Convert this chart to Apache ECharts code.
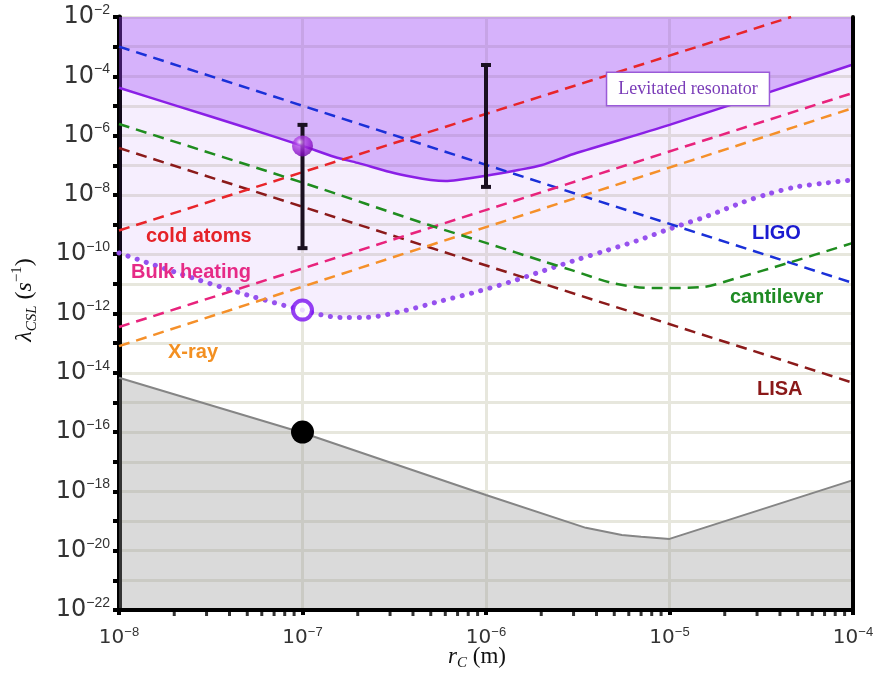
<!DOCTYPE html>
<html>
<head>
<meta charset="utf-8">
<script src="https://cdn.jsdelivr.net/npm/echarts@6/dist/echarts.min.js"></script>
<style>
  html, body { margin: 0; padding: 0; background: #ffffff; }
  #chart { width: 878px; height: 675px; }
</style>
</head>
<body>
<div id="chart"></div>
<script>
// CSL collapse rate λ_CSL versus collapse radius r_C, log–log, with the
// excluded regions and the bounds of several experiments.

// ---- axis ticks ----
const xDecades = [1e-8, 1e-7, 1e-6, 1e-5, 1e-4];
const yDecades = [1e-22, 1e-21, 1e-20, 1e-19, 1e-18, 1e-17, 1e-16, 1e-15, 1e-14, 1e-13,
                  1e-12, 1e-11, 1e-10, 1e-9, 1e-8, 1e-7, 1e-6, 1e-5, 1e-4, 1e-3, 1e-2];
const yLabelled = [1e-22, 1e-20, 1e-18, 1e-16, 1e-14, 1e-12, 1e-10, 1e-8, 1e-6, 1e-4, 1e-2];
const minorSteps = [2, 3, 4, 5, 6, 7, 8, 9];

// ---- levitated resonator bound (solid), excluded above ----
const levitatedX = [1e-8, 2e-8, 5e-8, 1e-7, 1.5e-7, 2e-7, 3e-7, 4e-7, 5e-7, 6e-7, 7e-7,
                    1e-6, 1.5e-6, 2e-6, 3e-6, 1e-5, 1e-4];
const levitatedY = [4.1e-5, 1.07e-5, 1.8e-6, 4.5e-7, 1.9e-7, 1.2e-7, 5.9e-8, 4.0e-8, 3.2e-8, 2.95e-8, 3.2e-8,
                    4.4e-8, 6.9e-8, 1.0e-7, 2.4e-7, 2.3e-6, 2.5e-4];

// ---- bulk heating bound (dotted), excluded above ----
const bulkX = [1e-8, 2.5e-8, 5e-8, 1e-7, 1.6e-7, 2.2e-7, 3.5e-7, 5.5e-7, 8.5e-7, 1.35e-6, 2.05e-6,
               3.2e-6, 4.4e-6, 6.6e-6, 1e-5, 1.6e-5, 2.5e-5, 3.5e-5, 4.9e-5, 7e-5, 1e-4];
const bulkY = [1.1e-10, 1.6e-11, 4.2e-12, 1.3e-12, 7.4e-13, 7.4e-13, 1.2e-12, 2.5e-12, 5e-12, 1.15e-11, 2.75e-11,
               6.8e-11, 1.26e-10, 2.8e-10, 7.1e-10, 1.9e-9, 5.6e-9, 1.1e-8, 1.86e-8, 2.5e-8, 3.2e-8];

// ---- lower bound (grey region below) ----
const lowerX = [1e-8, 1e-7, 1e-6, 3.5e-6, 5.5e-6, 7e-6, 1e-5, 1e-4];
const lowerY = [6.8e-15, 9.5e-17, 7.6e-19, 5.9e-20, 3.4e-20, 2.95e-20, 2.5e-20, 2.4e-18];

// ---- experimental bounds (dashed) ----
const ligoX = [1e-8, 1e-4];         const ligoY = [1e-3, 1.07e-11];
const lisaX = [1e-8, 1e-4];         const lisaY = [3.8e-7, 4.6e-15];
const coldAtomsX = [1e-8, 4.6e-5];  const coldAtomsY = [6.3e-10, 1e-2];
const bulkDashX = [1e-8, 1e-4];     const bulkDashY = [3.5e-13, 2.75e-5];
const xrayX = [1e-8, 1e-4];         const xrayY = [7.9e-14, 8.5e-6];
const cantileverX = [1e-8, 1e-7, 4.8e-7, 1e-6, 2.1e-6, 2.9e-6, 4.9e-6, 8.1e-6, 1.5e-5, 2.35e-5, 4.4e-5, 1e-4];
const cantileverY = [2.45e-6, 2.6e-8, 1.0e-9, 2.4e-10, 5.5e-11, 2.95e-11, 1.07e-11, 7.2e-12, 7.8e-12, 1.6e-11, 5e-11, 2.4e-10];

// ---- error bars and points ----
const errX = [1e-7, 1e-6];
const errLow = [1.6e-10, 1.86e-8];
const errHigh = [2.3e-6, 2.4e-4];
const levitatedPoint = [1e-7, 4.5e-7];
const bulkPoint = [1e-7, 1.3e-12];
const lowerPoint = [1e-7, 1e-16];

// ---- helpers ----
const zip = (xs, ys) => xs.map((x, i) => [x, ys[i]]);
const minorTicks = [];
xDecades.slice(0, -1).forEach(d => minorSteps.forEach(m => minorTicks.push(d * m)));
function powLabel(v) {
  const e = Math.round(Math.log10(v));
  return '{b|10}{s|' + (e < 0 ? '\u2212' + (-e) : String(e)) + '}';
}

const xMin = 1e-8, xMax = 1e-4, yMin = 1e-22, yMax = 1e-2;
const gridLine = { color: '#e7e7dd', width: 3 };
const dash = [11, 7];

function dashed(name, xs, ys, color, smooth) {
  return {
    name, type: 'line', data: zip(xs, ys), symbol: 'none', smooth: smooth || false,
    lineStyle: { color, width: 2.5, type: dash }, z: 4, silent: true
  };
}

const chart = echarts.init(document.getElementById('chart'));
chart.setOption({
  animation: false,
  backgroundColor: '#ffffff',
  grid: { left: 119, right: 25, top: 17, bottom: 65 },
  xAxis: [
    {
      type: 'log', logBase: 10, min: xMin, max: xMax, position: 'bottom',
      axisLine: { lineStyle: { color: '#7c7c7c', width: 3 } },
      axisTick: { customValues: xDecades, length: 5, lineStyle: { color: '#000', width: 4 } },
      axisLabel: {
        customValues: xDecades, formatter: powLabel, margin: 16,
        rich: {
          b: { fontFamily: 'DejaVu Sans', fontSize: 20, lineHeight: 24, color: '#333' },
          s: { fontFamily: 'Liberation Sans', fontSize: 13, lineHeight: 13, verticalAlign: 'top', color: '#333' }
        }
      },
      splitLine: { show: true, lineStyle: gridLine }
    },
    {
      type: 'log', logBase: 10, min: xMin, max: xMax, position: 'top', z: 10,
      axisLine: { lineStyle: { color: '#000', width: 4 } },
      axisTick: { show: false }, axisLabel: { show: false }, splitLine: { show: false }
    }
  ],
  yAxis: [
    {
      type: 'log', logBase: 10, min: yMin, max: yMax, position: 'left',
      axisLine: { lineStyle: { color: '#000', width: 5 } },
      axisTick: { customValues: yDecades, length: 6, lineStyle: { color: '#000', width: 4 } },
      axisLabel: {
        customValues: yLabelled, formatter: powLabel, margin: 9,
        rich: {
          b: { fontFamily: 'DejaVu Sans', fontSize: 24, lineHeight: 28, color: '#333' },
          s: { fontFamily: 'Liberation Sans', fontSize: 14, lineHeight: 14, verticalAlign: 'top', color: '#333' }
        }
      },
      splitLine: { show: true, lineStyle: gridLine }
    },
    {
      type: 'log', logBase: 10, min: yMin, max: yMax, position: 'right', z: 10,
      axisLine: { lineStyle: { color: '#000', width: 4 } },
      axisTick: { show: false }, axisLabel: { show: false }, splitLine: { show: false }
    }
  ],
  series: [
    {
      name: 'Bulk heating region', type: 'line', data: zip(bulkX, bulkY), symbol: 'none', smooth: 0.3,
      lineStyle: { color: '#9651ee', width: 5, type: [0.1, 9.5], cap: 'round' },
      areaStyle: { origin: 'end', color: 'rgba(170,90,245,0.15)' }, z: 2, silent: true
    },
    {
      name: 'Levitated resonator', type: 'line', data: zip(levitatedX, levitatedY), symbol: 'none', smooth: 0.3,
      lineStyle: { color: '#8a1fe6', width: 2.5 },
      areaStyle: { origin: 'end', color: 'rgba(150,60,245,0.48)' }, z: 3, silent: true
    },
    {
      // grey region under the lower bound, closed along the bottom of the plot
      name: 'Lower bound region', type: 'custom', z: 2, silent: true, clip: true,
      data: [[xMin, yMin]],
      renderItem: function (params, api) {
        const pts = lowerX.map((x, i) => api.coord([x, lowerY[i]]));
        pts.push(api.coord([xMax, yMin]));
        pts.push(api.coord([xMin, yMin]));
        return { type: 'polygon', shape: { points: pts }, style: { fill: 'rgba(150,150,150,0.35)' } };
      }
    },
    {
      name: 'Lower bound', type: 'line', data: zip(lowerX, lowerY), symbol: 'none',
      lineStyle: { color: '#858585', width: 2 }, z: 3, silent: true
    },
    dashed('LIGO', ligoX, ligoY, '#1a30d8'),
    dashed('LISA', lisaX, lisaY, '#8b1a1a'),
    dashed('cold atoms', coldAtomsX, coldAtomsY, '#e8252a'),
    dashed('Bulk heating', bulkDashX, bulkDashY, '#e8237c'),
    dashed('X-ray', xrayX, xrayY, '#f5902a'),
    dashed('cantilever', cantileverX, cantileverY, '#1f8c1f', 0.3),
    {
      name: 'error bars', type: 'custom', z: 6, silent: true,
      data: errX.map((x, i) => [x, errLow[i], errHigh[i]]),
      encode: { x: 0, y: [1, 2] },
      renderItem: function (params, api) {
        const lo = api.coord([api.value(0), api.value(1)]);
        const hi = api.coord([api.value(0), api.value(2)]);
        const st = { stroke: '#1a1020', lineWidth: 4 };
        return {
          type: 'group',
          children: [
            { type: 'line', shape: { x1: lo[0], y1: lo[1], x2: hi[0], y2: hi[1] }, style: st },
            { type: 'line', shape: { x1: lo[0] - 5, y1: lo[1], x2: lo[0] + 5, y2: lo[1] }, style: st },
            { type: 'line', shape: { x1: hi[0] - 5, y1: hi[1], x2: hi[0] + 5, y2: hi[1] }, style: st }
          ]
        };
      }
    },
    {
      name: 'levitated point', type: 'scatter', data: [levitatedPoint], symbolSize: 21, z: 7, silent: true,
      itemStyle: {
        color: new echarts.graphic.RadialGradient(0.38, 0.32, 0.75, [
          { offset: 0, color: '#f4dcff' },
          { offset: 0.25, color: '#b54ee8' },
          { offset: 0.7, color: '#8e14cc' },
          { offset: 1, color: '#6a08a0' }
        ])
      }
    },
    {
      name: 'bulk point', type: 'scatter', data: [bulkPoint], symbolSize: 19, z: 7, silent: true,
      itemStyle: { color: '#ffffff', borderColor: '#7a10f0', borderWidth: 4 }
    },
    {
      name: 'lower point', type: 'scatter', data: [lowerPoint], symbolSize: 23, z: 7, silent: true,
      itemStyle: { color: '#000000', opacity: 1 }
    },
    {
      name: 'minor ticks', type: 'scatter', data: minorTicks.map(v => [v, yMin]), clip: false,
      symbol: 'rect', symbolSize: [3, 4], symbolOffset: [0, 4], z: 3, silent: true,
      itemStyle: { color: '#000000' }
    }
  ],
  graphic: [
    {
      type: 'text', x: 688, y: 89, z: 20,
      style: {
        text: 'Levitated resonator', align: 'center', verticalAlign: 'middle',
        fontFamily: 'Liberation Serif', fontSize: 18, fill: '#7a3cb8',
        backgroundColor: '#ffffff', borderColor: '#9a5bd8', borderWidth: 1.5, padding: [7, 11]
      }
    },
    { type: 'text', x: 146, y: 236, z: 20, style: { text: 'cold atoms', verticalAlign: 'middle', fontFamily: 'Liberation Sans', fontWeight: 'bold', fontSize: 20, fill: '#e52228' } },
    { type: 'text', x: 131, y: 272, z: 20, style: { text: 'Bulk heating', verticalAlign: 'middle', fontFamily: 'Liberation Sans', fontWeight: 'bold', fontSize: 20, fill: '#e62a86' } },
    { type: 'text', x: 168, y: 352, z: 20, style: { text: 'X-ray', verticalAlign: 'middle', fontFamily: 'Liberation Sans', fontWeight: 'bold', fontSize: 20, fill: '#f39022' } },
    { type: 'text', x: 752, y: 233, z: 20, style: { text: 'LIGO', verticalAlign: 'middle', fontFamily: 'Liberation Sans', fontWeight: 'bold', fontSize: 20, fill: '#1b1bd0' } },
    { type: 'text', x: 730, y: 297, z: 20, style: { text: 'cantilever', verticalAlign: 'middle', fontFamily: 'Liberation Sans', fontWeight: 'bold', fontSize: 20, fill: '#1f8b24' } },
    { type: 'text', x: 757, y: 389, z: 20, style: { text: 'LISA', verticalAlign: 'middle', fontFamily: 'Liberation Sans', fontWeight: 'bold', fontSize: 20, fill: '#8a1818' } },
    {
      type: 'text', x: 25, y: 300, rotation: Math.PI / 2, z: 20,
      style: {
        text: '{i|\u03bb}{sub|CSL}{n| (}{i|s}{sup|\u22121}{n|)}', align: 'center', verticalAlign: 'middle',
        rich: {
          i: { fontFamily: 'Liberation Serif', fontStyle: 'italic', fontSize: 24, lineHeight: 30, fill: '#111' },
          n: { fontFamily: 'Liberation Serif', fontSize: 24, lineHeight: 30, fill: '#111' },
          sub: { fontFamily: 'Liberation Serif', fontStyle: 'italic', fontSize: 15, lineHeight: 16, verticalAlign: 'bottom', fill: '#111' },
          sup: { fontFamily: 'Liberation Serif', fontSize: 15, lineHeight: 16, verticalAlign: 'top', fill: '#111' }
        }
      }
    },
    {
      type: 'text', x: 477, y: 657, z: 20,
      style: {
        text: '{i|r}{sub|C}{n| (m)}', align: 'center', verticalAlign: 'middle',
        rich: {
          i: { fontFamily: 'Liberation Serif', fontStyle: 'italic', fontSize: 23, lineHeight: 28, fill: '#111' },
          n: { fontFamily: 'Liberation Serif', fontSize: 23, lineHeight: 28, fill: '#111' },
          sub: { fontFamily: 'Liberation Serif', fontStyle: 'italic', fontSize: 15, lineHeight: 16, verticalAlign: 'bottom', fill: '#111' }
        }
      }
    }
  ]
});
</script>
</body>
</html>
